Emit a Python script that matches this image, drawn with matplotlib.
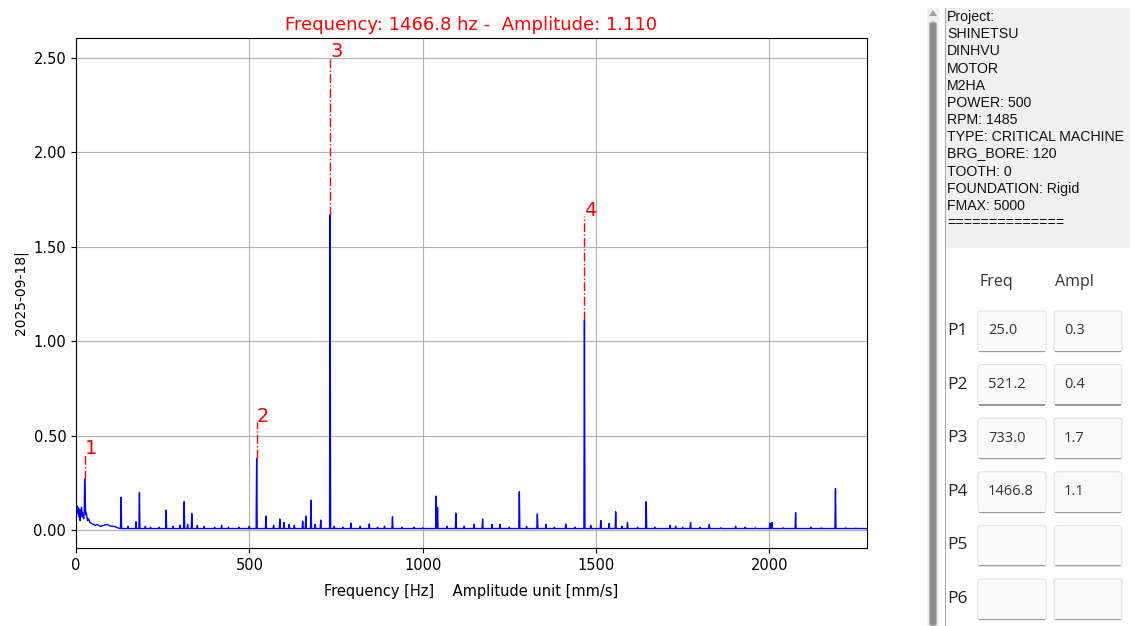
import matplotlib
matplotlib.use('Agg')
import matplotlib.pyplot as plt
from matplotlib.patches import Rectangle, FancyBboxPatch, Polygon

W, H = 1135, 626

# low frequency hump (Hz, mm/s)
lf_freq = [0, 2, 4, 6, 8, 10, 12, 14, 16, 18, 20, 22, 24, 28, 30, 33, 36, 40,
           45, 50, 55, 60, 70, 80, 90, 100, 110, 120]
lf_amp = [0.05, 0.13, 0.09, 0.12, 0.07, 0.11, 0.05, 0.10, 0.12, 0.07, 0.09,
          0.06, 0.10, 0.08, 0.09, 0.05, 0.06, 0.04, 0.035, 0.03, 0.025, 0.03,
          0.02, 0.025, 0.03, 0.02, 0.02, 0.012]

# discrete lines of the spectrum
line_freq = [130, 150, 173, 183, 200, 215, 240, 260, 280, 300, 312, 322, 334,
             350, 370, 400, 420, 440, 470, 500, 548, 570, 588, 600, 615, 630,
             654, 663, 678, 690, 706, 745, 770, 793, 820, 846, 870, 890, 913,
             940, 975, 1000, 1039, 1043, 1070, 1096, 1120, 1148, 1173, 1200,
             1223, 1250, 1279, 1300, 1331, 1356, 1380, 1413, 1440, 1485, 1514,
             1538, 1557, 1575, 1591, 1620, 1645, 1670, 1714, 1730, 1750, 1773,
             1800, 1827, 1860, 1903, 1930, 1960, 2002, 2008, 2040, 2076, 2120,
             2150, 2191, 2220, 2250]
line_amp = [0.173, 0.02, 0.044, 0.198, 0.02, 0.015, 0.015, 0.106, 0.02, 0.025,
            0.15, 0.03, 0.088, 0.025, 0.02, 0.015, 0.025, 0.015, 0.015, 0.02,
            0.074, 0.025, 0.058, 0.04, 0.03, 0.025, 0.047, 0.074, 0.158, 0.03,
            0.053, 0.02, 0.015, 0.037, 0.02, 0.032, 0.015, 0.02, 0.07, 0.015,
            0.015, 0.012, 0.18, 0.12, 0.02, 0.09, 0.02, 0.03, 0.058, 0.03,
            0.03, 0.015, 0.203, 0.02, 0.085, 0.03, 0.015, 0.032, 0.015, 0.025,
            0.05, 0.035, 0.097, 0.02, 0.04, 0.015, 0.15, 0.015, 0.025, 0.02,
            0.015, 0.04, 0.015, 0.03, 0.012, 0.02, 0.015, 0.012, 0.035, 0.04,
            0.012, 0.092, 0.015, 0.012, 0.219, 0.012, 0.01]

# picked peaks
peak_names = ['1', '2', '3', '4']
peak_freq = [25.0, 521.2, 733.0, 1466.8]
peak_amp = [0.27, 0.38, 1.67, 1.11]

floor = 0.008
x_max = 2282

info_lines = ['Project:', 'SHINETSU', 'DINHVU', 'MOTOR', 'M2HA', 'POWER: 500',
              'RPM: 1485', 'TYPE: CRITICAL MACHINE', 'BRG_BORE: 120',
              'TOOTH: 0', 'FOUNDATION: Rigid', 'FMAX: 5000', '==============']
row_labels = ['P1', 'P2', 'P3', 'P4', 'P5', 'P6']

# build the trace: low-frequency part, then each line as a narrow spike
spikes = sorted(list(zip(line_freq, line_amp)) +
                [(f, a) for f, a in zip(peak_freq, peak_amp) if f > lf_freq[-1]])
pts = [(f, a) for f, a in zip(lf_freq, lf_amp)]
pts.append((peak_freq[0], peak_amp[0]))
pts.sort()
for f, a in spikes:
    pts += [(f - 1.5, floor), (f, a), (f + 1.5, floor)]
pts.append((x_max + 20, floor))
fx = [p[0] for p in pts]
fy = [p[1] for p in pts]

fig = plt.figure(figsize=(W / 100, H / 100), dpi=100)
ax = fig.add_axes([76 / W, 1 - 548 / H, (867 - 76) / W, (548 - 38) / H])
ax.plot(fx, fy, color='blue', lw=1)
ax.set_xlim(0, x_max)
ax.set_ylim(-0.095, 2.606)
ax.set_yticks([0, 0.5, 1.0, 1.5, 2.0, 2.5])
ax.set_yticklabels(['%.2f' % v for v in [0, 0.5, 1.0, 1.5, 2.0, 2.5]])
ax.set_xticks([0, 500, 1000, 1500, 2000])
ax.tick_params(labelsize=10.5)
ax.grid(True, color='#b0b0b0', lw=0.8)
ax.set_xlabel('Frequency [Hz]    Amplitude unit [mm/s]', fontsize=10.5, labelpad=8)
ax.set_ylabel('2025-09-18|', fontsize=10)

for name, f, a in zip(peak_names, peak_freq, peak_amp):
    ax.plot([f, f], [a, 1.5 * a], color='red', ls='-.', lw=1)
    ax.text(f, 1.5 * a, name, color='red', fontsize=14, ha='left', va='baseline')

ax.set_title('Frequency: %.1f hz -  Amplitude: %.3f' % (peak_freq[3], peak_amp[3]),
             color='red', fontsize=13)


def px(x, y):
    return x / W, 1 - y / H


# side panel: scrollbar and info text
fig.patches.append(Rectangle(px(927, 626), 12 / W, 618 / H, transform=fig.transFigure,
                             facecolor='#f0f0f0', edgecolor='none'))
fig.patches.append(FancyBboxPatch(px(929.5, 626), 7 / W, 604 / H,
                                  boxstyle='round,pad=0,rounding_size=0.004',
                                  transform=fig.transFigure,
                                  facecolor='#8c8c8c', edgecolor='#b5b5b5', lw=0.8))
fig.patches.append(Polygon([px(929, 16), px(937, 16), px(933, 10)], closed=True,
                           transform=fig.transFigure, facecolor='#a0a0a0',
                           edgecolor='none'))
fig.patches.append(Rectangle(px(945, 626), 1 / W, 618 / H, transform=fig.transFigure,
                             facecolor='#a8a8a8', edgecolor='none'))
fig.patches.append(Rectangle(px(946, 248), 184 / W, 240 / H, transform=fig.transFigure,
                             facecolor='#f0f0f0', edgecolor='none'))
for i, s in enumerate(info_lines):
    yb = 21 + i * 17.2
    if '_' in s:
        # the deep underscore glyph drags the rendered line down a couple of px
        yb -= 2
    x0, y0 = px(947, yb)
    fig.text(x0, y0, s, fontsize=10.2, family='Liberation Sans', va='baseline',
             ha='left', color='#111111')

# peak table
x0, y0 = px(996, 282)
fig.text(x0, y0, 'Freq', fontsize=11.5, family='Open Sans', ha='center', va='center',
         color='#333333')
x0, y0 = px(1074, 282)
fig.text(x0, y0, 'Ampl', fontsize=11.5, family='Open Sans', ha='center', va='center',
         color='#333333')
for i, lab in enumerate(row_labels):
    yc = 331 + i * 53.6
    x0, y0 = px(947, yc)
    fig.text(x0, y0, lab, fontsize=12.5, family='Open Sans', ha='left', va='center',
             color='#222222')
    for bx in (978, 1054):
        fig.patches.append(FancyBboxPatch(px(bx, yc + 21), 68 / W, 41 / H,
                                          boxstyle='round,pad=0,rounding_size=0.003',
                                          transform=fig.transFigure,
                                          facecolor='#fafafa', edgecolor='#e2e2e2',
                                          lw=0.8))
        fig.patches.append(Rectangle(px(bx + 1, yc + 21), 66 / W, 1.2 / H,
                                     transform=fig.transFigure,
                                     facecolor='#9a9a9a', edgecolor='none'))
    if i < len(peak_freq):
        x0, y0 = px(988, yc)
        fig.text(x0, y0, '%.1f' % peak_freq[i], fontsize=10.5, family='Open Sans',
                 ha='left', va='center', color='#333333')
        x0, y0 = px(1064, yc)
        fig.text(x0, y0, '%.1f' % peak_amp[i], fontsize=10.5, family='Open Sans',
                 ha='left', va='center', color='#333333')

fig.savefig('out.png', dpi=100)
